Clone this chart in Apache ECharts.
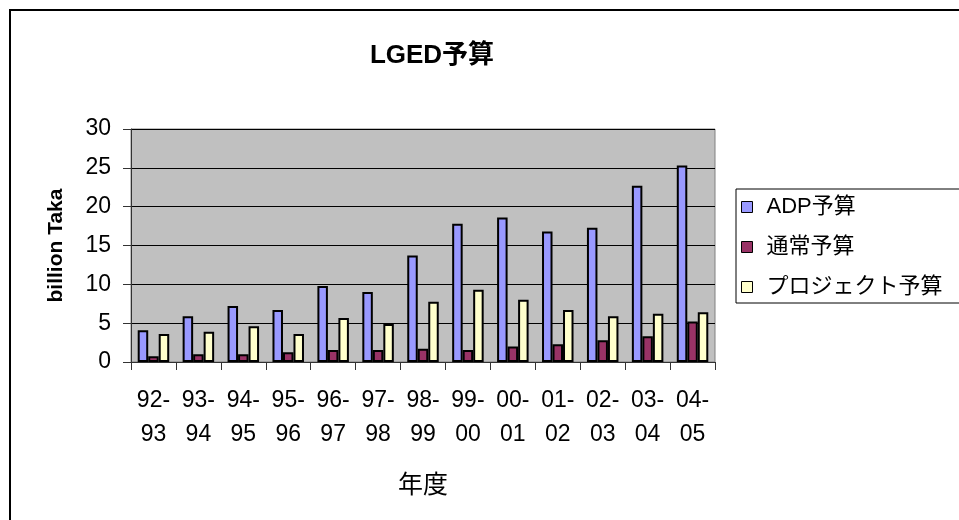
<!DOCTYPE html>
<html><head><meta charset="utf-8">
<script src="https://cdn.jsdelivr.net/npm/echarts@6/dist/echarts.min.js"></script>
<style>html,body{margin:0;padding:0;background:#fff}#c{width:959px;height:520px}</style>
</head><body><div id="c"></div>
<script>
var categories = ['92-93','93-94','94-95','95-96','96-97','97-98','98-99','99-00','00-01','01-02','02-03','03-04','04-05'];
var adpBudget = [4.1, 5.9, 7.2, 6.7, 9.8, 9.0, 13.7, 17.8, 18.6, 16.8, 17.3, 22.7, 25.3];
var regularBudget = [0.75, 1.0, 1.0, 1.25, 1.55, 1.55, 1.7, 1.55, 2.0, 2.3, 2.8, 3.3, 5.2];
var projectBudget = [3.6, 3.9, 4.6, 3.6, 5.65, 4.9, 7.75, 9.3, 8.0, 6.7, 5.9, 6.2, 6.4];
var yTicks = [0, 5, 10, 15, 20, 25, 30];

var FONT = "'Liberation Sans', Arial, 'Noto Sans CJK JP', sans-serif";
var chart = echarts.init(document.getElementById('c'), null, {renderer: 'canvas'});
function barSeries(name, data, color) {
  return {
    name: name, type: 'bar', data: data, barWidth: 10.5, barGap: '0%',
    itemStyle: {color: color, borderColor: '#000', borderWidth: 2},
    emphasis: {disabled: true}, animation: false
  };
}
chart.setOption({
  animation: false,
  backgroundColor: '#fff',
  graphic: [{
    type: 'rect', z: -10, silent: true,
    shape: {x: 10, y: 10, width: 1000, height: 600},
    style: {fill: 'none', stroke: '#000', lineWidth: 2}
  }],
  title: {
    text: 'LGED予算', left: 427, top: 38, textAlign: 'center',
    textStyle: {fontFamily: FONT, fontSize: 26, fontWeight: 'bold', color: '#000'}
  },
  legend: {
    orient: 'vertical', left: 736, top: 189,
    padding: [7, 60, 5, 5], itemGap: 18, itemWidth: 11, itemHeight: 11,
    icon: 'rect',
    borderColor: '#000', borderWidth: 1, backgroundColor: '#fff',
    itemStyle: {borderColor: '#000', borderWidth: 1},
    textStyle: {fontFamily: FONT, fontSize: 22, color: '#000', lineHeight: 22, padding: [0, 0, 0, 9]},
    data: ['ADP予算', '通常予算', 'プロジェクト予算']
  },
  grid: {
    left: 131, right: 244, top: 129, bottom: 158,
    show: true, backgroundColor: '#C0C0C0', borderColor: '#808080', borderWidth: 1
  },
  xAxis: {
    type: 'category', data: categories,
    name: '年度', nameLocation: 'middle', nameGap: 109,
    nameTextStyle: {fontFamily: "'Noto Sans CJK JP', sans-serif", fontSize: 25, color: '#000'},
    axisLine: {lineStyle: {color: '#333', width: 1}},
    axisTick: {show: true, length: 8, lineStyle: {color: '#333'}},
    axisLabel: {
      margin: 22, fontFamily: FONT, fontSize: 23, color: '#000', lineHeight: 34,
      interval: 0,
      formatter: function (v) { var p = v.split('-'); return p[0] + '-\n' + p[1]; }
    }
  },
  yAxis: {
    type: 'value', min: yTicks[0], max: yTicks[yTicks.length - 1], interval: 5,
    name: 'billion Taka', nameLocation: 'middle', nameGap: 64, nameRotate: 90,
    nameTextStyle: {fontFamily: FONT, fontSize: 21, fontWeight: 'bold', color: '#000'},
    axisLine: {show: true, lineStyle: {color: '#333', width: 1}},
    axisTick: {show: true, length: 8, lineStyle: {color: '#333'}},
    axisLabel: {margin: 20, fontFamily: FONT, fontSize: 23, color: '#000'},
    splitLine: {show: true, lineStyle: {color: '#000', width: 1}}
  },
  series: [
    barSeries('ADP予算', adpBudget, '#9999FF'),
    barSeries('通常予算', regularBudget, '#993366'),
    barSeries('プロジェクト予算', projectBudget, '#FFFFCC')
  ]
});
</script></body></html>
